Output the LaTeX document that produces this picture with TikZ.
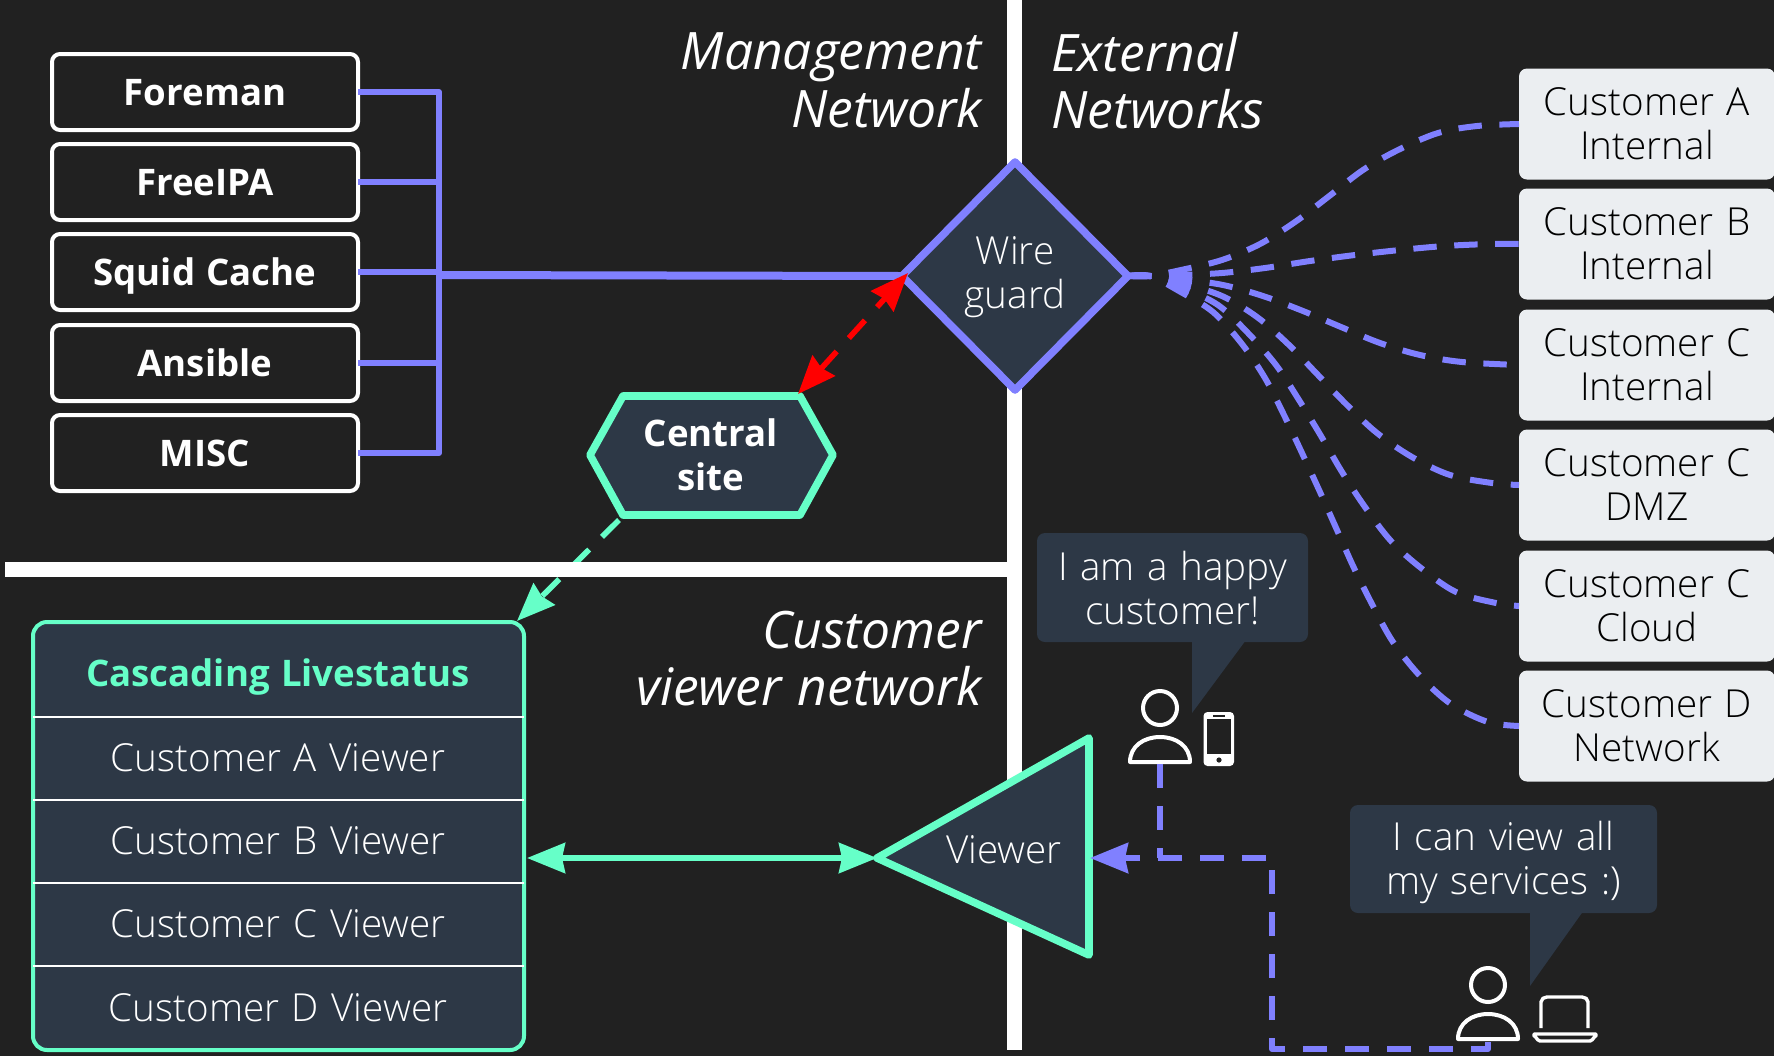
\documentclass[tikz,border=0pt]{standalone}
\usepackage{fontspec}
\setmainfont{Open Sans}[WordSpace=1.2]
\newfontfamily\lightf{Open Sans Light}[WordSpace=1.25]
\usetikzlibrary{arrows.meta,shapes.geometric}
\definecolor{bgc}{HTML}{212121}
\definecolor{purp}{HTML}{8080FF}
\definecolor{mint}{HTML}{66FFC8}
\definecolor{slate}{HTML}{2D3846}
\definecolor{pale}{HTML}{EBEEF1}
\tikzset{
  x=.5pt,y=-.5pt,
  lab/.style={font=\lightf\fontsize{19.3}{22}\selectfont,align=center,inner sep=0,outer sep=0},
  blab/.style={font=\bfseries\fontsize{18.3}{22}\selectfont,align=center,inner sep=0,outer sep=0},
  ttl/.style={font=\itshape\fontsize{25.8}{28.8}\selectfont,text=white,inner sep=0,outer sep=0},
  svc/.style={blab,draw=white,line width=2pt,fill=bgc,text=white,rounded corners=4pt,minimum width=153pt,minimum height=38pt,text height=15pt,text depth=2pt},
  cust/.style={lab,fill=pale,text=black,rounded corners=4pt,minimum width=128pt,minimum height=55.5pt},
  bus/.style={draw=purp,line width=3pt},
  fan/.style={draw=purp,line width=3pt,dash pattern=on 11.7pt off 8.8pt},
  hd/.style={-{Stealth[length=19pt,width=15pt,inset=1.5pt]}},
  hdboth/.style={{Stealth[length=19pt,width=15pt,inset=1.5pt]}-{Stealth[length=19pt,width=15pt,inset=1.5pt]}},
  rowtxt/.style={lab,text=white},
  icon/.style={draw=white,line width=2pt,line join=round},
}
\newcommand{\fanline}[3]{\draw[fan,#1] plot[smooth,tension=.55] coordinates {#2};}
\newcommand{\personicon}[2]{%
  \begin{scope}[shift={(#1,#2)}]
    \draw[icon] (0,0) circle[radius=8.5pt];
    \draw[icon] (-30,54) .. controls (-30,38) and (-16,29) .. (0,29) .. controls (16,29) and (30,38) .. (30,54) -- cycle;
  \end{scope}}
\begin{document}
\begin{tikzpicture}
\useasboundingbox (0,0) rectangle (1774,1056);
\fill[bgc] (0,0) rectangle (1774,1056);

% customer boxes
\node[cust] (ca) at (1647,124) {Customer A\\Internal};
\node[cust] (cb) at (1647,244) {Customer B\\Internal};
\node[cust] (cc) at (1647,365) {Customer C\\Internal};
\node[cust] (cd) at (1647,485) {Customer C\\DMZ};
\node[cust] (ce) at (1647,606) {Customer C\\Cloud};
\node[cust] (cf) at (1647,726) {Customer D\\Network};

% service boxes
\node[svc] (fore) at (205,92) {Foreman};
\node[svc] (free) at (205,182) {FreeIPA};
\node[svc] (squid) at (205,272) {Squid Cache};
\node[svc] (ans) at (205,363) {Ansible};
\node[svc] (misc) at (205,453) {MISC};

\coordinate (bustop) at (439,92);
\coordinate (busmid) at (439,275);
\coordinate (busbot) at (439,453);
\draw[bus,line join=round] (fore.east) -- (bustop) -- (busbot) -- (misc.east);
\draw[bus] (free.east) -- (free.east -| bustop);
\draw[bus] (ans.east) -- (ans.east -| bustop);
\draw[bus] (squid.east) -- (squid.east -| bustop);

% central site
\coordinate (h1) at (590,455); \coordinate (h2) at (623,396); \coordinate (h3) at (800,396);
\coordinate (h4) at (833,455); \coordinate (h5) at (800,515); \coordinate (h6) at (623,515);
\draw[mint,fill=slate,line width=3.8pt,line join=round] (h1)--(h2)--(h3)--(h4)--(h5)--(h6)--cycle;
\node[blab,text=white] (site) at (711,455) {Central\\site};

% table
\coordinate (cas) at (517,621);
\node[draw=mint,fill=slate,line width=2pt,rounded corners=7pt,minimum width=245.5pt,minimum height=214pt,inner sep=0,outer sep=0] (tbl) at (278.5,836) {};
\foreach \yy in {717,800,883,966} \draw[white,line width=.8pt] (33,\yy) -- (524,\yy);
\node[blab,text=mint] (cl) at (278,677) {Cascading Livestatus};
\node[rowtxt] (va) at (278,758) {Customer A Viewer};
\node[rowtxt] (vb) at (278,841) {Customer B Viewer};
\node[rowtxt] (vc) at (278,924) {Customer C Viewer};
\node[rowtxt] (vd) at (278,1008) {Customer D Viewer};

% green dashed, then divider rules
\coordinate (hs) at (619,520);
\draw[mint,line width=2.8pt,dash pattern=on 12pt off 9pt,hd] (hs) -- (cas);
\fill[white] (1007,0) rectangle (1022,1050);
\fill[white] (5,562) rectangle (1007,577);

% titles
\node[ttl,anchor=north east,align=right] (t1) at (982,33) {Management\\Network};
\node[ttl,anchor=north west,align=left] (t2) at (1051,32) {External\\Networks};
\node[ttl,anchor=north east,align=right] (t3) at (982,611) {Customer\\viewer network};

% wireguard
\node[diamond,aspect=1,draw=purp,fill=slate,line width=3.8pt,line join=round,minimum width=113pt,minimum height=114pt,inner sep=0,outer sep=0] (wire) at (1015,276) {};
\node[lab,text=white] (wiret) at (1015,277) {Wire\\guard};
\draw[bus,line width=4pt] (busmid) -- (wire.west);
\coordinate (rt) at (908,273); \coordinate (rb) at (798,394);
\draw[red,line width=2.8pt,dash pattern=on 12pt off 9pt,hdboth] (rb) -- (rt);

% fan
\fanline{}{(wire.east) (1150,276) (1181,270) (1222,260) (1260,244) (1295,222) (1328,197) (1363,170) (1398,150) (1438,133) (1477,126) (ca.west)}{}
\fanline{}{(wire.east) (1150,276) (1181,275) (1222,273) (1265,268) (1310,261) (1355,255) (1400,250) (1445,246) (1490,244) (cb.west)}{}
\fanline{}{(wire.east) (1150,276) (1181,279) (1223,285) (1263,296) (1303,311) (1341,327) (1380,343) (1420,355) (1462,362) (cc.west)}{}
\fanline{}{(wire.east) (1150,276) (1181,283) (1222,296) (1257,317) (1288,344) (1318,375) (1347,405) (1377,433) (1412,457) (1450,475) (1492,483) (cd.west)}{}
\fanline{}{(wire.east) (1150,276) (1181,287) (1218,305) (1248,333) (1276,365) (1299,400) (1321,436) (1342,472) (1365,507) (1391,541) (1421,568) (1456,592) (1496,603) (ce.west)}{}
\fanline{}{(wire.east) (1150,276) (1179,291) (1213,312) (1242,344) (1265,378) (1284,415) (1302,453) (1320,492) (1337,530) (1354,568) (1373,606) (1393,642) (1420,676) (1451,704) (1488,722) (cf.west)}{}

% viewer
\coordinate (v1) at (877,858); \coordinate (v2) at (1089,738); \coordinate (v3) at (1089,955);
\draw[mint,fill=slate,line width=3.8pt,line join=round] (v1)--(v2)--(v3)--cycle;
\node[lab,text=white] (viewer) at (1004,850) {Viewer};
\draw[mint,line width=2.8pt,hdboth] (tbl.east |- v1) ++(3,0) -- (v1);

% bubbles
\node[fill=slate,rounded corners=4pt,minimum width=135.5pt,minimum height=54.5pt,inner sep=0,outer sep=0] (b1) at (1172.5,587.5) {};
\node[lab,text=white] (b1t) at (1172.5,588) {I am a happy\\customer!};
\fill[slate] (1192,640) -- (1246,640) -- (1192,713) -- cycle;
\node[fill=slate,rounded corners=4pt,minimum width=153.5pt,minimum height=54pt,inner sep=0,outer sep=0] (b2) at (1503.5,859) {};
\node[lab,text=white] (b2t) at (1503.5,862) {I can view all\\my services :)};
\fill[slate] (1530,910) -- (1584,910) -- (1530,986) -- cycle;

% people
\personicon{1160}{708}
\personicon{1488}{985}
\fill[white,rounded corners=2pt] (1203.5,712) rectangle (1234,766);
\fill[bgc] (1207,719) rectangle (1231,754);
\fill[bgc] (1213,714.5) rectangle (1225,716.5);
\fill[bgc] (1219,760) circle[radius=1.3pt];
\draw[icon,line width=1.7pt] (1541,1028) -- (1541,1002) to[out=90,in=180] (1547,997) -- (1582,997) to[out=0,in=90] (1588,1002) -- (1588,1028);
\draw[icon,line width=1.7pt] (1534,1034) -- (1596,1034) -- (1596,1036) to[out=90,in=0] (1590,1041) -- (1540,1041) to[out=180,in=90] (1534,1036) -- cycle;

% user paths
\coordinate (p1) at (1160,764);
\coordinate (p2) at (1488,1042);
\coordinate (corner1) at (1272,858);
\coordinate (corner2) at (1272,1049);
\coordinate (vin) at (1090,858);
\draw[purp,line width=3pt,dash pattern=on 12pt off 9pt] (p1) -- (p1 |- vin);
\draw[purp,line width=3pt,line join=round,dash pattern=on 12pt off 9pt,hd] (p2) -- (p2 |- corner2) -- (corner2) -- (corner1) -- (vin);
\end{tikzpicture}
\end{document}
